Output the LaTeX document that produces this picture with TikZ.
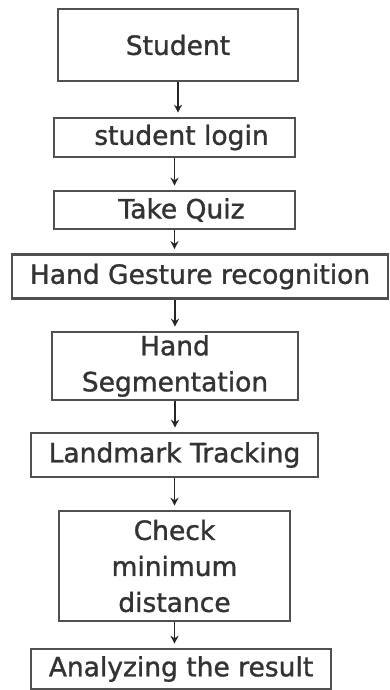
\documentclass[tikz,border=0pt]{standalone}
\usepackage{fontspec}
\setmainfont{DejaVu Sans}[FakeBold=1.2]
\usepackage{xcolor}
\definecolor{flow-line}{HTML}{505050}
\definecolor{flow-text}{HTML}{333333}
\usetikzlibrary{arrows.meta}

\tikzset{
    stage/.style={draw=flow-line, line width=2.6pt, fill=white, text=flow-text,
        align=center, inner sep=0pt,
        font=\fontsize{26.5}{36}\selectfont},
    flow/.style={draw=black!85, line width=1.8pt, -{Stealth[length=8pt, width=8pt]},
        shorten >=4pt}
}

\begin{document}
\begin{tikzpicture}[x=1pt, y=-1pt]

    % Frame
    \useasboundingbox (0, 0) rectangle (389, 690);

    % Stages
    \node[stage, minimum width=240, minimum height=72] (student) at (178, 45) {Student};
    \node[stage, minimum width=241, minimum height=39] (login) at (174.5, 137.5) {\hspace*{14pt}student login};
    \node[stage, minimum width=241, minimum height=38] (quiz) at (174.5, 210) {\hspace*{14pt}Take Quiz};
    \node[stage, minimum width=376, minimum height=44] (gesture) at (200, 276.5) {Hand Gesture recognition};
    \node[stage, minimum width=246, minimum height=68] (segment) at (175, 366) {Hand\\Segmentation};
    \node[stage, minimum width=287, minimum height=44] (landmark) at (174.5, 455) {Landmark Tracking};
    \node[stage, minimum width=231, minimum height=110] (check) at (174.5, 566) {Check\\minimum\\distance};
    \node[stage, minimum width=300, minimum height=40] (result) at (181, 669) {Analyzing the result};

    % Flow
    \draw[flow, line width=1.2pt] (student.south) -- (student.south |- login.north);
    \draw[flow] (login.south) -- (quiz.north);
    \draw[flow] (quiz.south) -- (quiz.south |- gesture.north);
    \draw[flow] (segment.north |- gesture.south) -- (segment.north);
    \draw[flow] (segment.south) -- (segment.south |- landmark.north);
    \draw[flow] (check.north |- landmark.south) -- (check.north);
    \draw[flow] (check.south) -- (check.south |- result.north);

\end{tikzpicture}
\end{document}
